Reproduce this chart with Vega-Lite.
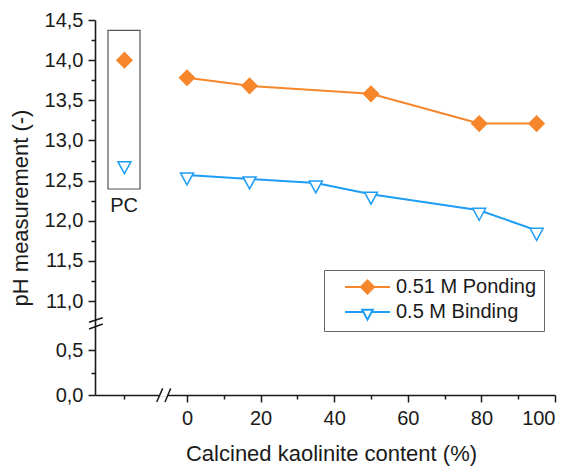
{
  "$schema": "https://vega.github.io/schema/vega-lite/v6.json",
  "width": 460,
  "height": 375,
  "autosize": {"type": "none"},
  "padding": {"left": 95, "top": 20, "right": 19, "bottom": 71},
  "background": "white",
  "config": {
    "view": {"stroke": null},
    "font": "Liberation Sans",
    "axis": {
      "grid": false,
      "domainColor": "#1a1a1a",
      "domainWidth": 1.6,
      "tickColor": "#1a1a1a",
      "tickWidth": 1.5,
      "labelColor": "#1a1a1a",
      "labelFontSize": 20,
      "titleColor": "#1a1a1a",
      "titleFontSize": 22,
      "titleFontWeight": "normal"
    }
  },
  "data": {
    "values": [
      {"series": "0.51 M Ponding", "group": "PC", "content": -17, "ph": 14.0},
      {"series": "0.51 M Ponding", "group": "kaolinite", "content": 0, "ph": 13.78},
      {"series": "0.51 M Ponding", "group": "kaolinite", "content": 17, "ph": 13.68},
      {"series": "0.51 M Ponding", "group": "kaolinite", "content": 50, "ph": 13.58},
      {"series": "0.51 M Ponding", "group": "kaolinite", "content": 79.4, "ph": 13.21},
      {"series": "0.51 M Ponding", "group": "kaolinite", "content": 95, "ph": 13.21},
      {"series": "0.5 M Binding", "group": "PC", "content": -17, "ph": 12.71},
      {"series": "0.5 M Binding", "group": "kaolinite", "content": 0, "ph": 12.57},
      {"series": "0.5 M Binding", "group": "kaolinite", "content": 17, "ph": 12.52},
      {"series": "0.5 M Binding", "group": "kaolinite", "content": 35, "ph": 12.47},
      {"series": "0.5 M Binding", "group": "kaolinite", "content": 50, "ph": 12.33},
      {"series": "0.5 M Binding", "group": "kaolinite", "content": 79.4, "ph": 12.13},
      {"series": "0.5 M Binding", "group": "kaolinite", "content": 95, "ph": 11.88}
    ]
  },
  "layer": [
    {
      "data": {"values": [{}]},
      "mark": {"type": "rect", "filled": false, "stroke": "#555555", "strokeWidth": 1.2},
      "encoding": {
        "x": {"datum": -21.47, "type": "quantitative", "axis": null, "scale": {"domain": [-25, 100], "nice": false, "zero": false}},
        "x2": {"datum": -12.77},
        "y": {"datum": 14.37, "type": "quantitative", "axis": null, "scale": {"domain": [0, 0.5, 11, 14.5], "range": [375, 330, 281, 0], "nice": false, "zero": false}},
        "y2": {"datum": 12.395}
      }
    },
    {
      "data": {"values": [{}]},
      "mark": {"type": "text", "text": "PC", "fontSize": 20, "color": "#1a1a1a"},
      "encoding": {
        "x": {"datum": -17.1, "type": "quantitative", "axis": null, "scale": {"domain": [-25, 100], "nice": false, "zero": false}},
        "y": {"datum": 12.18, "type": "quantitative", "axis": null, "scale": {"domain": [0, 0.5, 11, 14.5], "range": [375, 330, 281, 0], "nice": false, "zero": false}}
      }
    },
    {
      "transform": [{"filter": "datum.group === 'kaolinite'"}],
      "mark": {"type": "line", "strokeWidth": 2},
      "encoding": {
        "x": {
          "field": "content", "type": "quantitative",
          "scale": {"domain": [-25, 100], "nice": false, "zero": false},
          "axis": {"values": [0, 20, 40, 60, 80, 100], "format": "d", "tickSize": 7, "labelPadding": 6, "titlePadding": 15, "titleX": 236, "title": "Calcined kaolinite content (%)", "orient": "bottom"}
        },
        "y": {
          "field": "ph", "type": "quantitative",
          "scale": {"domain": [0, 0.5, 11, 14.5], "range": [375, 330, 281, 0], "nice": false, "zero": false},
          "axis": {"values": [0, 0.5, 11, 11.5, 12, 12.5, 13, 13.5, 14, 14.5], "labelExpr": "replace(format(datum.value, '.1f'), '.', ',')", "tickSize": 7, "labelPadding": 5, "titlePadding": 12, "title": "pH measurement (-)", "orient": "left"}
        },
        "color": {
          "field": "series", "type": "nominal",
          "scale": {"domain": ["0.51 M Ponding", "0.5 M Binding"], "range": ["#F6862B", "#1E9DF5"]},
          "legend": null
        }
      }
    },
    {
      "mark": {"type": "point", "opacity": 1, "strokeWidth": 1.5, "size": 225},
      "encoding": {
        "x": {"field": "content", "type": "quantitative", "axis": null, "scale": {"domain": [-25, 100], "nice": false, "zero": false}},
        "y": {"field": "ph", "type": "quantitative", "axis": null, "scale": {"domain": [0, 0.5, 11, 14.5], "range": [375, 330, 281, 0], "nice": false, "zero": false}},
        "shape": {
          "field": "series", "type": "nominal",
          "scale": {"domain": ["0.51 M Ponding", "0.5 M Binding"], "range": ["M0,-1L1,0L0,1L-1,0Z", "M-0.87,-0.27L0.87,-0.27L0,1.33Z"]},
          "legend": null
        },
        "fill": {
          "field": "series", "type": "nominal",
          "scale": {"domain": ["0.51 M Ponding", "0.5 M Binding"], "range": ["#F6862B", "#FFFFFF"]},
          "legend": null
        },
        "stroke": {
          "field": "series", "type": "nominal",
          "scale": {"domain": ["0.51 M Ponding", "0.5 M Binding"], "range": ["#F6862B", "#1E9DF5"]},
          "legend": null
        }
      }
    },
    {
      "mark": {"type": "point", "opacity": 0, "strokeWidth": 2, "size": 100},
      "encoding": {
        "x": {"field": "content", "type": "quantitative", "axis": null, "scale": {"domain": [-25, 100], "nice": false, "zero": false}},
        "y": {"field": "ph", "type": "quantitative", "axis": null, "scale": {"domain": [0, 0.5, 11, 14.5], "range": [375, 330, 281, 0], "nice": false, "zero": false}},
        "shape": {
          "field": "series", "type": "nominal",
          "scale": {"domain": ["0.51 M Ponding", "0.5 M Binding"], "range": ["M-4.5,0L-1.3,0M1.3,0L4.5,0M0,-1.3L1.3,0L0,1.3L-1.3,0Z", "M-4.5,0L-0.82,0M0.82,0L4.5,0M-1.07,-0.46L1.07,-0.46L0,1.54Z"]},
          "legend": {
            "title": null,
            "orient": "none",
            "legendX": 229,
            "legendY": 250,
            "padding": 7,
            "rowPadding": 4,
            "strokeColor": "#666666",
            "fillColor": "white",
            "labelFontSize": 20,
            "labelColor": "#1a1a1a",
            "labelExpr": "datum.label + '\u00a0\u2009'",
            "symbolSize": 100,
            "symbolStrokeWidth": 2,
            "symbolOpacity": 1,
            "symbolOffset": 26.5,
            "labelOffset": 18.5
          }
        },
        "fill": {
          "field": "series", "type": "nominal",
          "scale": {"domain": ["0.51 M Ponding", "0.5 M Binding"], "range": ["#F6862B", "#FFFFFF"]},
          "legend": null
        },
        "stroke": {
          "field": "series", "type": "nominal",
          "scale": {"domain": ["0.51 M Ponding", "0.5 M Binding"], "range": ["#F6862B", "#1E9DF5"]},
          "legend": null
        }
      }
    },
    {
      "data": {"values": [{}]},
      "mark": {"type": "point", "opacity": 0},
      "encoding": {
        "x": {"datum": 0, "type": "quantitative", "scale": {"domain": [-25, 100], "nice": false, "zero": false},
          "axis": {"values": [-17, 10, 30, 50, 70, 90], "labels": false, "domain": false, "tickSize": 4, "title": null, "orient": "bottom"}},
        "y": {"datum": 12, "type": "quantitative", "scale": {"domain": [0, 0.5, 11, 14.5], "range": [375, 330, 281, 0], "nice": false, "zero": false},
          "axis": {"values": [0.25, 11.25, 11.75, 12.25, 12.75, 13.25, 13.75, 14.25], "labels": false, "domain": false, "tickSize": 4, "title": null, "orient": "left"}}
      }
    },
    {
      "data": {"values": [{}]},
      "mark": {"type": "rule", "color": "white", "strokeWidth": 3},
      "encoding": {
        "x": {"datum": -7.4, "type": "quantitative", "axis": null, "scale": {"domain": [-25, 100], "nice": false, "zero": false}},
        "x2": {"datum": -5.3},
        "y": {"datum": 0, "type": "quantitative", "axis": null, "scale": {"domain": [0, 0.5, 11, 14.5], "range": [375, 330, 281, 0], "nice": false, "zero": false}}
      }
    },
    {
      "data": {"values": [{}]},
      "mark": {"type": "rule", "color": "#1a1a1a", "strokeWidth": 1.5},
      "encoding": {
        "x": {"datum": -8.23, "type": "quantitative", "axis": null, "scale": {"domain": [-25, 100], "nice": false, "zero": false}},
        "x2": {"datum": -6.6},
        "y": {"datum": -0.078, "type": "quantitative", "axis": null, "scale": {"domain": [0, 0.5, 11, 14.5], "range": [375, 330, 281, 0], "nice": false, "zero": false}},
        "y2": {"datum": 0.074}
      }
    },
    {
      "data": {"values": [{}]},
      "mark": {"type": "rule", "color": "#1a1a1a", "strokeWidth": 1.5},
      "encoding": {
        "x": {"datum": -5.98, "type": "quantitative", "axis": null, "scale": {"domain": [-25, 100], "nice": false, "zero": false}},
        "x2": {"datum": -4.43},
        "y": {"datum": -0.078, "type": "quantitative", "axis": null, "scale": {"domain": [0, 0.5, 11, 14.5], "range": [375, 330, 281, 0], "nice": false, "zero": false}},
        "y2": {"datum": 0.074}
      }
    },
    {
      "data": {"values": [{}]},
      "mark": {"type": "rule", "color": "#1a1a1a", "strokeWidth": 1.5},
      "encoding": {
        "x": {"datum": -26.63, "type": "quantitative", "axis": null, "scale": {"domain": [-25, 100], "nice": false, "zero": false}},
        "x2": {"datum": -22.9},
        "y": {"datum": 6.436, "type": "quantitative", "axis": null, "scale": {"domain": [0, 0.5, 11, 14.5], "range": [375, 330, 281, 0], "nice": false, "zero": false}},
        "y2": {"datum": 7.42}
      }
    },
    {
      "data": {"values": [{}]},
      "mark": {"type": "rule", "color": "#1a1a1a", "strokeWidth": 1.5},
      "encoding": {
        "x": {"datum": -26.63, "type": "quantitative", "axis": null, "scale": {"domain": [-25, 100], "nice": false, "zero": false}},
        "x2": {"datum": -22.9},
        "y": {"datum": 5.0, "type": "quantitative", "axis": null, "scale": {"domain": [0, 0.5, 11, 14.5], "range": [375, 330, 281, 0], "nice": false, "zero": false}},
        "y2": {"datum": 6.07}
      }
    }
  ],
  "resolve": {
    "axis": {"x": "independent", "y": "independent"},
    "scale": {"shape": "independent", "fill": "independent", "stroke": "independent", "color": "independent"}
  }
}
